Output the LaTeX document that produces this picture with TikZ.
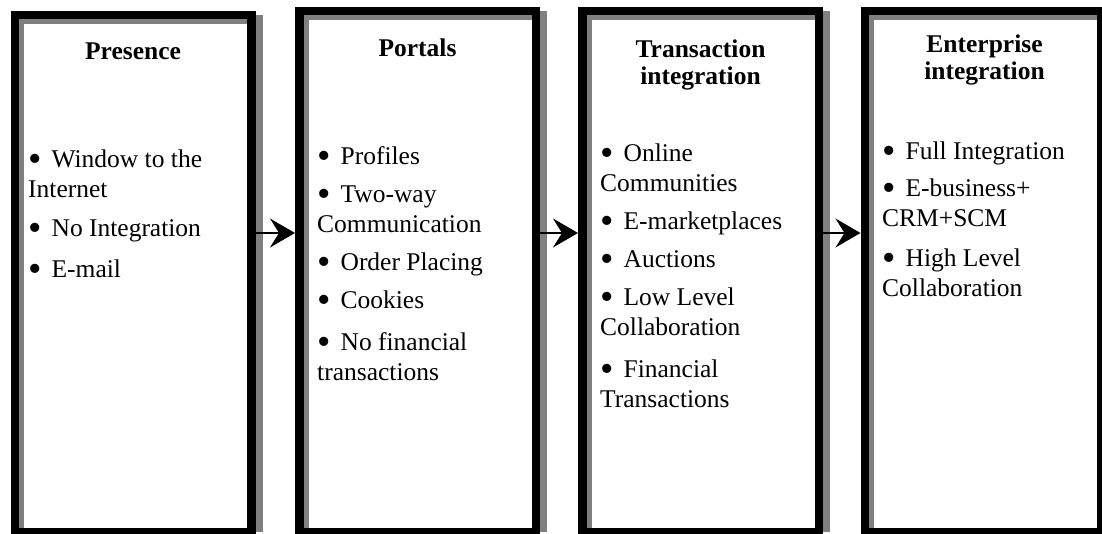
\documentclass[tikz,border=0pt]{standalone}
\usepackage{fontspec}
\setmainfont{Liberation Serif}
\usetikzlibrary{arrows.meta,shadows}
\definecolor{ink}{RGB}{0,0,0}
\definecolor{edgegray}{RGB}{128,128,128}

% a heavier bullet with the gap used in all four lists
\newcommand{\stagebullet}{\raisebox{-4pt}{\scalebox{1.5}{\textbullet}}\hspace{10pt}}

\begin{document}
\begin{tikzpicture}[
  x=1pt,y=1pt,
  font=\fontsize{25.5}{30}\selectfont,
  stage/.style={draw=ink,fill=white,line width=8.5pt,
                minimum width=236.5pt,inner sep=0pt,
                drop shadow={shadow xshift=11.25pt,shadow yshift=0pt,
                             fill=edgegray,opacity=1},
                path picture={
                  \fill[edgegray]
                    ([xshift=4.25pt]path picture bounding box.south west)
                    rectangle ([xshift=9.25pt]path picture bounding box.north west);
                  \fill[edgegray]
                    ([yshift=-4.25pt]path picture bounding box.north west)
                    rectangle ([yshift=-9.25pt]path picture bounding box.north east);
                }},
  title/.style={anchor=base,align=center,
                font=\fontsize{25.5}{27}\selectfont\bfseries},
  % multi-line nodes: the base anchor sits on the last line
  items/.style={anchor=base west,align=left,inner sep=0pt},
  flow/.style={-{Stealth[length=25pt,width=29pt,inset=9pt]},draw=ink,
               line width=1.3pt}
]
\useasboundingbox (0,0) rectangle (1102,533);

% The four stages; they run off the bottom edge.
\node[stage,minimum height=516.5pt] (presence)    at (133,259.5) {};
\node[stage,minimum height=520.5pt] (portals)     at (417.5,261.5) {};
\node[stage,minimum height=520.5pt] (transaction) at (700.5,261.5) {};
\node[stage,minimum height=520.5pt] (enterprise)  at (983,261.5) {};

% Headings.
\node[title] (presencehead)    at (133,473)   {Presence};
\node[title] (portalshead)     at (417.5,476) {Portals};
\node[title] (transactionhead) at (700.5,448) {Transaction\\integration};
\node[title] (enterprisehead)  at (984.5,453) {Enterprise\\integration};

% What each stage offers.
\node[items] (presencelist) at (28,255)
  {\stagebullet Window to the\\Internet\\[9pt]
   \stagebullet No Integration\\[11pt]
   \stagebullet E-mail};
\node[items] (portalslist) at (317,153)
  {\stagebullet Profiles\\[8pt]
   \stagebullet Two-way\\Communication\\[8pt]
   \stagebullet Order Placing\\[8pt]
   \stagebullet Cookies\\[12pt]
   \stagebullet No financial\\transactions};
\node[items] (transactionlist) at (600,126)
  {\stagebullet Online\\Communities\\[8pt]
   \stagebullet E-marketplaces\\[8pt]
   \stagebullet Auctions\\[7pt]
   \stagebullet Low Level\\Collaboration\\[12pt]
   \stagebullet Financial\\Transactions};
\node[items] (enterpriselist) at (882,236)
  {\stagebullet Full Integration\\[7pt]
   \stagebullet E-business+\\CRM+SCM\\[10pt]
   \stagebullet High Level\\Collaboration};

% Arrows between the stages, all on one level.
\coordinate (axis) at (0,300);
\draw[flow] (presence.east |- axis)    -- (portals.west |- axis);
\draw[flow] (portals.east |- axis)     -- (transaction.west |- axis);
\draw[flow] (transaction.east |- axis) -- (enterprise.west |- axis);

\end{tikzpicture}
\end{document}
